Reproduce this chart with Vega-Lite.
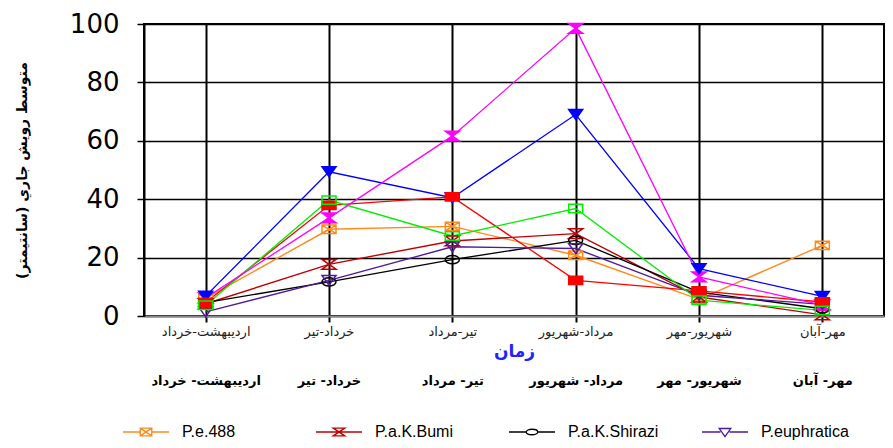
{
  "$schema": "https://vega.github.io/schema/vega-lite/v6.json",
  "width": 740,
  "height": 292,
  "autosize": "none",
  "padding": {"left": 144, "top": 24, "right": 9, "bottom": 132},
  "background": "white",
  "config": {"view": {"stroke": "black", "strokeWidth": 2}, "font": "DejaVu Sans"},
  "datasets": {
    "main": [
      {"period": "اردیبهشت-خرداد", "series": "P.e.488", "value": 6.0},
      {"period": "خرداد-تیر", "series": "P.e.488", "value": 29.7},
      {"period": "تیر-مرداد", "series": "P.e.488", "value": 30.7},
      {"period": "مرداد-شهریور", "series": "P.e.488", "value": 20.8},
      {"period": "شهریور-مهر", "series": "P.e.488", "value": 5.7},
      {"period": "مهر-آبان", "series": "P.e.488", "value": 24.2},
      {"period": "اردیبهشت-خرداد", "series": "P.a.K.Bumi", "value": 4.2},
      {"period": "خرداد-تیر", "series": "P.a.K.Bumi", "value": 17.7},
      {"period": "تیر-مرداد", "series": "P.a.K.Bumi", "value": 25.7},
      {"period": "مرداد-شهریور", "series": "P.a.K.Bumi", "value": 28.2},
      {"period": "شهریور-مهر", "series": "P.a.K.Bumi", "value": 6.5},
      {"period": "مهر-آبان", "series": "P.a.K.Bumi", "value": 0.4},
      {"period": "اردیبهشت-خرداد", "series": "P.a.K.Shirazi", "value": 4.6},
      {"period": "خرداد-تیر", "series": "P.a.K.Shirazi", "value": 11.7},
      {"period": "تیر-مرداد", "series": "P.a.K.Shirazi", "value": 19.3},
      {"period": "مرداد-شهریور", "series": "P.a.K.Shirazi", "value": 25.9},
      {"period": "شهریور-مهر", "series": "P.a.K.Shirazi", "value": 8.2},
      {"period": "مهر-آبان", "series": "P.a.K.Shirazi", "value": 2.5},
      {"period": "اردیبهشت-خرداد", "series": "P.euphratica", "value": 1.4},
      {"period": "خرداد-تیر", "series": "P.euphratica", "value": 12.2},
      {"period": "تیر-مرداد", "series": "P.euphratica", "value": 23.7},
      {"period": "مرداد-شهریور", "series": "P.euphratica", "value": 23.1},
      {"period": "شهریور-مهر", "series": "P.euphratica", "value": 7.1},
      {"period": "مهر-آبان", "series": "P.euphratica", "value": 4.0},
      {"period": "اردیبهشت-خرداد", "series": "Series 5", "value": 4.6},
      {"period": "خرداد-تیر", "series": "Series 5", "value": 37.9},
      {"period": "تیر-مرداد", "series": "Series 5", "value": 40.8},
      {"period": "مرداد-شهریور", "series": "Series 5", "value": 12.2},
      {"period": "شهریور-مهر", "series": "Series 5", "value": 8.6},
      {"period": "مهر-آبان", "series": "Series 5", "value": 4.8},
      {"period": "اردیبهشت-خرداد", "series": "Series 6", "value": 6.8},
      {"period": "خرداد-تیر", "series": "Series 6", "value": 49.4},
      {"period": "تیر-مرداد", "series": "Series 6", "value": 40.5},
      {"period": "مرداد-شهریور", "series": "Series 6", "value": 69.0},
      {"period": "شهریور-مهر", "series": "Series 6", "value": 16.2},
      {"period": "مهر-آبان", "series": "Series 6", "value": 6.7},
      {"period": "اردیبهشت-خرداد", "series": "Series 7", "value": 3.7},
      {"period": "خرداد-تیر", "series": "Series 7", "value": 39.7},
      {"period": "تیر-مرداد", "series": "Series 7", "value": 27.4},
      {"period": "مرداد-شهریور", "series": "Series 7", "value": 36.8},
      {"period": "شهریور-مهر", "series": "Series 7", "value": 5.4},
      {"period": "مهر-آبان", "series": "Series 7", "value": 1.9},
      {"period": "اردیبهشت-خرداد", "series": "Series 8", "value": 6.2},
      {"period": "خرداد-تیر", "series": "Series 8", "value": 33.6},
      {"period": "تیر-مرداد", "series": "Series 8", "value": 61.6},
      {"period": "مرداد-شهریور", "series": "Series 8", "value": 98.5},
      {"period": "شهریور-مهر", "series": "Series 8", "value": 13.4},
      {"period": "مهر-آبان", "series": "Series 8", "value": 3.7}
    ]
  },
  "data": {"name": "main"},
  "encoding": {
    "x": {
      "field": "period", "type": "ordinal",
      "scale": {"type": "point", "padding": 0.5, "domain": ["اردیبهشت-خرداد", "خرداد-تیر", "تیر-مرداد", "مرداد-شهریور", "شهریور-مهر", "مهر-آبان"]},
      "axis": null
    },
    "y": {"field": "value", "type": "quantitative", "scale": {"domain": [0, 100], "nice": false}}
  },
  "layer": [
    {
      "mark": {"type": "line"},
      "encoding": {
        "x": {
          "field": "period", "type": "ordinal",
          "axis": {
            "orient": "bottom", "labelAngle": 0, "labelFontSize": 13, "labelColor": "#222", "labelPadding": 3,
            "labelOverlap": false, "labelFlush": false,
            "tickSize": 6, "tickWidth": 2, "tickColor": "black",
            "grid": true, "gridColor": "black", "gridWidth": 2,
            "domainColor": "#888", "domainWidth": 2,
            "title": "زمان", "titleColor": "#2222ff", "titleFontSize": 17, "titleFontWeight": "bold", "titlePadding": 5
          }
        },
        "y": {
          "field": "value", "type": "quantitative",
          "axis": {
            "values": [0, 10, 20, 30, 40, 50, 60, 70, 80, 90, 100],
            "labelExpr": "datum.value % 20 === 0 ? datum.label : ''",
            "labelFont": "DejaVu Sans", "labelFontSize": 26, "labelColor": "black", "labelPadding": 18,
            "tickSize": 7, "tickWidth": 1.5,
            "tickColor": {"condition": {"test": "datum.value % 20 !== 0", "value": "#b4b4b4"}, "value": "black"},
            "grid": true,
            "gridColor": {"condition": {"test": "datum.value % 20 !== 0", "value": "#b4b4b4"}, "value": "black"},
            "gridWidth": {"condition": {"test": "datum.value % 20 !== 0", "value": 2}, "value": 1.5},
            "domainColor": "black", "domainWidth": 2,
            "title": "متوسط رويش جاري (سانتيمتر)", "titleFontSize": 14, "titleFontWeight": "bold", "titleColor": "black", "titlePadding": 40
          }
        },
        "color": {
          "field": "series", "type": "nominal",
          "scale": {
            "domain": ["P.e.488", "P.a.K.Bumi", "P.a.K.Shirazi", "P.euphratica", "Series 5", "Series 6", "Series 7", "Series 8"],
            "range": ["#ff8a1c", "#c00000", "#000000", "#4d1a9e", "#ff0000", "#0000ff", "#00ee00", "#ff00ff"]
          },
          "legend": {
            "orient": "none", "legendX": -22, "legendY": 384, "direction": "horizontal", "columns": 4,
            "values": ["P.e.488", "P.a.K.Bumi", "P.a.K.Shirazi", "P.euphratica"],
            "title": null, "symbolSize": 2116, "symbolStrokeWidth": 1.2,
            "labelFont": "Liberation Sans", "labelFontSize": 16, "labelColor": "black", "labelOffset": 12,
            "columnPadding": 40, "gridAlign": "all",
            "encode": {
              "symbols": {
                "update": {
                  "shape": {"signal": "datum.value === 'P.e.488' ? 'M-1,0L-0.25,0M0.25,0L1,0M-0.25,-0.17L0.25,-0.17L0.25,0.17L-0.25,0.17ZM-0.25,-0.17L0.25,0.17M0.25,-0.17L-0.25,0.17' : datum.value === 'P.a.K.Bumi' ? 'M-1,0L1,0M-0.25,-0.17L0.25,-0.17L-0.25,0.17L0.25,0.17Z' : datum.value === 'P.a.K.Shirazi' ? 'M-1,0L-0.25,0M0.25,0L1,0M-0.25,0A0.25,0.12 0 1,0 0.25,0A0.25,0.12 0 1,0 -0.25,0Z' : 'M-1,0L-0.2,0M0.2,0L1,0M-0.25,-0.15L0.25,-0.15L0,0.2Z'"},
                  "fill": {"value": "transparent"}
                }
              }
            }
          }
        },
        "strokeWidth": {
          "field": "series", "type": "ordinal",
          "scale": {
            "domain": ["P.e.488", "P.a.K.Bumi", "P.a.K.Shirazi", "P.euphratica", "Series 5", "Series 6", "Series 7", "Series 8"],
            "range": [1.4, 1.3, 1.3, 1.3, 1.5, 2, 1.6, 2]
          },
          "legend": null
        }
      }
    },
    {
      "transform": [{"filter": {"field": "series", "oneOf": ["P.e.488"]}}],
      "mark": {"type": "point", "filled": true, "size": 196, "strokeWidth": 1.5, "opacity": 1, "shape": "M-1,-0.6L1,-0.6L1,0.6L-1,0.6ZM-1,-0.6L1,0.6M1,-0.6L-1,0.6"},
      "encoding": {
        "x": {
          "field": "period", "type": "ordinal",
          "axis": {
            "orient": "bottom", "offset": 58, "labelAngle": 0, "domain": false, "ticks": false, "grid": false,
            "labelFontWeight": "bold", "labelFontSize": 13, "labelColor": "black", "labelPadding": 0,
            "labelOverlap": false, "labelFlush": false,
            "labelExpr": "replace(datum.label, '-', '- ')",
            "title": null
          }
        },
        "stroke": {"field": "series", "type": "nominal", "scale": {"domain": ["P.e.488", "P.a.K.Bumi", "P.a.K.Shirazi", "P.euphratica", "Series 5", "Series 6", "Series 7", "Series 8"], "range": ["#ff8a1c", "#c00000", "#000000", "#4d1a9e", "#ff0000", "#0000ff", "#00ee00", "#ff00ff"]}, "legend": null},
        "fill": {"field": "series", "type": "nominal", "scale": {"domain": ["P.e.488", "P.a.K.Bumi", "P.a.K.Shirazi", "P.euphratica", "Series 5", "Series 6", "Series 7", "Series 8"], "range": ["transparent", "transparent", "transparent", "transparent", "#ff0000", "#0000ff", "transparent", "#ff00ff"]}, "legend": null}
      }
    },
    {
      "transform": [{"filter": {"field": "series", "oneOf": ["P.a.K.Bumi", "Series 8"]}}],
      "mark": {"type": "point", "filled": true, "size": 196, "strokeWidth": 1.5, "opacity": 1, "shape": "M-1,-0.7L1,-0.7L-1,0.7L1,0.7Z"},
      "encoding": {
        "stroke": {"field": "series", "type": "nominal", "legend": null},
        "fill": {"field": "series", "type": "nominal", "legend": null}
      }
    },
    {
      "transform": [{"filter": {"field": "series", "oneOf": ["P.a.K.Shirazi"]}}],
      "mark": {"type": "point", "filled": true, "size": 196, "strokeWidth": 1.5, "opacity": 1, "shape": "M-1,0A1,0.6 0 1,0 1,0A1,0.6 0 1,0 -1,0Z"},
      "encoding": {
        "stroke": {"field": "series", "type": "nominal", "legend": null},
        "fill": {"field": "series", "type": "nominal", "legend": null}
      }
    },
    {
      "transform": [{"filter": {"field": "series", "oneOf": ["P.euphratica", "Series 6"]}}],
      "mark": {"type": "point", "filled": true, "size": 196, "strokeWidth": 1.5, "opacity": 1, "shape": "M-1,-0.7L1,-0.7L0,0.7Z"},
      "encoding": {
        "stroke": {"field": "series", "type": "nominal", "legend": null},
        "fill": {"field": "series", "type": "nominal", "legend": null}
      }
    },
    {
      "transform": [{"filter": {"field": "series", "oneOf": ["Series 5", "Series 7"]}}],
      "mark": {"type": "point", "filled": true, "size": 196, "strokeWidth": 1.5, "opacity": 1, "shape": "M-1,-0.6L1,-0.6L1,0.6L-1,0.6Z"},
      "encoding": {
        "stroke": {"field": "series", "type": "nominal", "legend": null},
        "fill": {"field": "series", "type": "nominal", "legend": null}
      }
    }
  ],
  "resolve": {"axis": {"x": "independent"}}
}
